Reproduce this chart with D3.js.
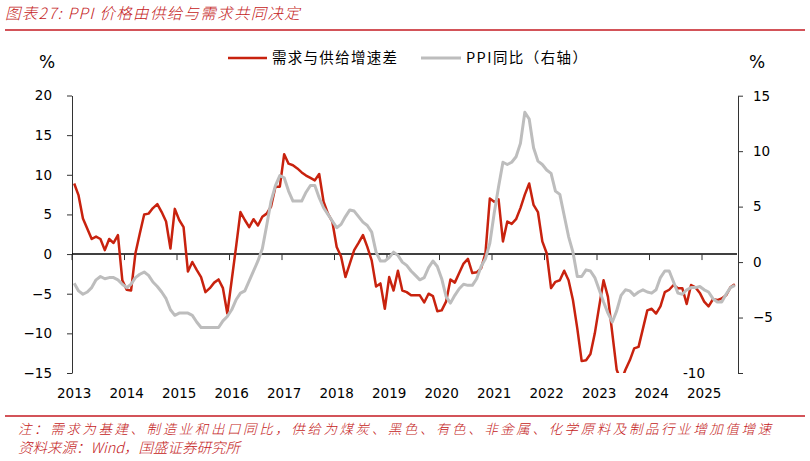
<!DOCTYPE html>
<html>
<head>
<meta charset="utf-8">
<script src="https://cdn.jsdelivr.net/npm/d3@7"></script>
<style>
  body { margin: 0; background: #fff; }
  svg { display: block; }
  text { font-family: "DejaVu Sans", Verdana, sans-serif; }
  .cjk { font-family: "Noto Sans CJK SC", sans-serif; }
</style>
</head>
<body>
<script>
// months from 2013-03 to 2025-10, year labels every 12 categories
var startYear = 2013, startMonth = 3, nMonths = 152
var yearLabels = ["2013","2014","2015","2016","2017","2018","2019","2020","2021","2022","2023","2024","2025"]

// 需求与供给增速差 (left axis, %)
var gap = [8.9, 7.4, 4.5, 3.2, 1.9, 2.2, 1.9, 0.5, 1.9, 1.4, 2.4, -3.3,
  -4.5, -4.6, 0.1, 2.6, 5.0, 5.1, 5.8, 6.3, 5.3, 4.1, 0.7, 5.7,
  4.3, 3.4, -2.2, -1.0, -2.0, -2.9, -4.8, -4.3, -3.6, -3.2, -4.3, -7.5,
  -3.3, 0.9, 5.3, 4.3, 3.4, 4.4, 3.6, 4.7, 5.1, 6.0, 8.5, 8.5,
  12.6, 11.4, 11.2, 10.8, 10.3, 9.9, 9.6, 9.3, 10.1, 6.6, 5.1, 4.1,
  0.9, -0.3, -2.9, -1.2, 0.5, 1.4, 2.4, 0.9, -0.8, -4.1, -3.7, -6.9,
  -2.9, -4.6, -2.1, -4.6, -4.8, -5.2, -5.2, -5.2, -6.1, -5.0, -5.3, -7.2,
  -7.1, -6.0, -3.2, -3.6, -2.4, -1.2, -0.6, -2.4, -2.3, -1.8, 0.1, 7.0,
  6.6, 6.9, 1.6, 4.1, 3.8, 4.4, 5.8, 7.5, 8.9, 6.2, 5.3, 1.6,
  0.1, -4.3, -3.5, -3.3, -2.1, -3.3, -5.8, -9.4, -13.5, -13.4, -12.6, -10.0,
  -6.6, -3.3, -5.4, -10.0, -14.6, -16.0, -14.6, -13.4, -11.9, -11.7, -9.4, -7.1,
  -6.9, -7.5, -6.6, -4.8, -4.5, -3.9, -4.3, -4.3, -6.3, -3.9, -4.2, -4.9,
  -6.0, -6.6, -5.7, -5.8, -5.6, -5.2, -4.2, -3.8]

// PPI同比 (right axis, %)
var ppi = [-1.9, -2.6, -2.9, -2.7, -2.3, -1.6, -1.3, -1.5, -1.4, -1.4,
  -1.6, -2.0, -2.3, -2.0, -1.4, -1.1, -0.9, -1.2, -1.8, -2.2, -2.7, -3.3,
  -4.3, -4.8, -4.6, -4.6, -4.6, -4.8, -5.4, -5.9, -5.9, -5.9, -5.9, -5.9,
  -5.3, -4.9, -4.3, -3.4, -2.8, -2.6, -1.7, -0.8, 0.1, 1.2, 3.3, 5.5,
  6.9, 7.8, 7.6, 6.4, 5.5, 5.5, 5.5, 6.3, 6.9, 6.9, 5.8, 4.9,
  4.3, 3.7, 3.1, 3.4, 4.1, 4.7, 4.6, 4.1, 3.6, 3.3, 2.7, 0.9,
  0.1, 0.1, 0.4, 0.9, 0.6, 0.0, -0.3, -0.8, -1.2, -1.6, -1.4, -0.5,
  0.1, -0.4, -1.5, -3.1, -3.7, -3.0, -2.4, -2.0, -2.1, -2.1, -1.5, -0.4,
  0.3, 1.7, 4.4, 6.8, 9.0, 8.8, 9.0, 9.5, 10.7, 13.5, 12.9, 10.3,
  9.1, 8.8, 8.3, 8.0, 6.4, 6.1, 4.2, 2.3, 0.9, -1.3, -1.3, -0.7,
  -0.8, -1.4, -2.5, -3.6, -4.6, -5.4, -4.4, -3.0, -2.5, -2.6, -3.0, -2.7,
  -2.5, -2.7, -2.8, -2.5, -1.4, -0.8, -0.8, -1.8, -2.8, -2.9, -2.5, -2.3,
  -2.3, -2.2, -2.5, -2.7, -3.3, -3.6, -3.6, -2.9, -2.3, -2.1]

var leftTicks = [-15, -10, -5, 0, 5, 10, 15, 20]
var rightTicks = [-10, -5, 0, 5, 10, 15]

// build month categories
var months = []
for (var k = 0; k < nMonths; k++) {
  var m = startMonth - 1 + k
  months.push((startYear + Math.floor(m / 12)) + "-" + (m % 12 + 1))
}

var w = 810, h = 461
var red = "#c8220e", grey = "#bdbdbd", titleRed = "#c41a22"

var svg = d3.select("body").append("svg")
  .attr("width", w)
  .attr("height", h)

// scales
var x = d3.scaleBand().domain(months).range([72, 737]).padding(0)
var bw = x.bandwidth()
var yL = d3.scaleLinear().domain([-15, 20]).range([373, 95.5])
var yR = d3.scaleLinear().domain([-10, 15]).range([373, 95.7])

// title + rules
svg.append("text")
  .attr("class", "cjk")
  .attr("x", 5).attr("y", 19)
  .attr("font-size", 15.5)
  .attr("font-weight", 300)
  .attr("font-style", "italic")
  .attr("letter-spacing", 1.3)
  .attr("fill", titleRed)
  .text("图表27:  PPI 价格由供给与需求共同决定")

svg.append("line")
  .attr("x1", 5).attr("x2", 805).attr("y1", 30).attr("y2", 30)
  .attr("stroke", titleRed).attr("stroke-width", 1.3)

svg.append("line")
  .attr("x1", 5).attr("x2", 805).attr("y1", 416).attr("y2", 416)
  .attr("stroke", titleRed).attr("stroke-width", 1.3)

// footnote
svg.append("text")
  .attr("class", "cjk")
  .attr("x", 18).attr("y", 434)
  .attr("font-size", 13.5).attr("font-weight", 300)
  .attr("font-style", "italic").attr("fill", titleRed)
  .attr("textLength", 753).attr("lengthAdjust", "spacing")
  .text("注：需求为基建、制造业和出口同比，供给为煤炭、黑色、有色、非金属、化学原料及制品行业增加值增速")

svg.append("text")
  .attr("class", "cjk")
  .attr("x", 18).attr("y", 453)
  .attr("font-size", 14.5).attr("font-weight", 300)
  .attr("font-style", "italic").attr("fill", titleRed)
  .text("资料来源：Wind，国盛证券研究所")

// % units
svg.append("text").attr("x", 47).attr("y", 68)
  .attr("text-anchor", "middle").attr("font-size", 17).text("%")
svg.append("text").attr("x", 757).attr("y", 68)
  .attr("text-anchor", "middle").attr("font-size", 17).text("%")

// legend
svg.append("line").attr("x1", 228).attr("x2", 267).attr("y1", 58).attr("y2", 58)
  .attr("stroke", red).attr("stroke-width", 2.5)
svg.append("text").attr("class", "cjk")
  .attr("x", 272).attr("y", 63).attr("font-size", 14.5)
  .attr("textLength", 125).attr("lengthAdjust", "spacing")
  .text("需求与供给增速差")

svg.append("line").attr("x1", 421).attr("x2", 461).attr("y1", 58).attr("y2", 58)
  .attr("stroke", grey).attr("stroke-width", 3)
svg.append("text").attr("class", "cjk")
  .attr("x", 466).attr("y", 63).attr("font-size", 14.5)
  .attr("textLength", 121).attr("lengthAdjust", "spacing")
  .text("PPI同比（右轴）")

// left axis
var gl = svg.append("g")
  .attr("transform", "translate(72,0)")
  .call(d3.axisLeft(yL).tickValues(leftTicks).tickSize(5).tickPadding(15).tickSizeOuter(0))
gl.selectAll("text").attr("font-size", 13.5).attr("fill", "#000")
  .style("font-family", "DejaVu Sans")
gl.selectAll("line,path").attr("stroke", "#333")

// right axis
var gr = svg.append("g")
  .attr("transform", "translate(738,0)")
  .call(d3.axisRight(yR).tickValues(rightTicks).tickSize(5).tickPadding(10).tickSizeOuter(0))
gr.selectAll("text").attr("font-size", 13.5).attr("fill", "#000")
  .style("font-family", "DejaVu Sans")
gr.selectAll("line,path").attr("stroke", "#333")
// the -10 label sits inside the plot in the original
gr.selectAll(".tick").filter(function(d) { return d == -10 }).select("text").remove()
svg.append("text")
  .attr("x", 705).attr("y", yR(-10)).attr("dy", "0.35em")
  .attr("text-anchor", "end").attr("font-size", 13.5)
  .text("-10")

// x axis along left zero
var y0 = yL(0)
svg.append("line")
  .attr("x1", 72).attr("x2", 737).attr("y1", y0).attr("y2", y0)
  .attr("stroke", "#000").attr("stroke-width", 1.5)

var yearIdx = yearLabels.map(function(d, i) { return months[i * 12] })

svg.selectAll(".xtick")
  .data(yearIdx)
  .enter().append("line")
  .attr("class", "xtick")
  .attr("x1", function(d) { return x(d) })
  .attr("x2", function(d) { return x(d) })
  .attr("y1", y0).attr("y2", y0 + 6)
  .attr("stroke", "#333")

svg.selectAll(".xlabel")
  .data(yearIdx)
  .enter().append("text")
  .attr("class", "xlabel")
  .attr("x", function(d) { return x(d) + bw / 2 })
  .attr("y", 393).attr("dy", "0.35em")
  .attr("text-anchor", "middle")
  .attr("font-size", 13.5)
  .text(function(d, i) { return yearLabels[i] })

// clip to plot area
svg.append("clipPath").attr("id", "plot")
  .append("rect").attr("x", 72).attr("y", 95).attr("width", 666).attr("height", 278)

var lineL = d3.line()
  .x(function(d, i) { return x(months[i]) + bw / 2 })
  .y(function(d) { return yL(d) })

var lineR = d3.line()
  .x(function(d, i) { return x(months[i]) + bw / 2 })
  .y(function(d) { return yR(d) })

svg.append("path")
  .datum(gap)
  .attr("clip-path", "url(#plot)")
  .attr("fill", "none")
  .attr("stroke", red)
  .attr("stroke-width", 2.5)
  .attr("stroke-linejoin", "round")
  .attr("d", lineL)

svg.append("path")
  .datum(ppi)
  .attr("fill", "none")
  .attr("stroke", grey)
  .attr("stroke-width", 3)
  .attr("stroke-linejoin", "round")
  .attr("d", lineR)
</script>
</body>
</html>
